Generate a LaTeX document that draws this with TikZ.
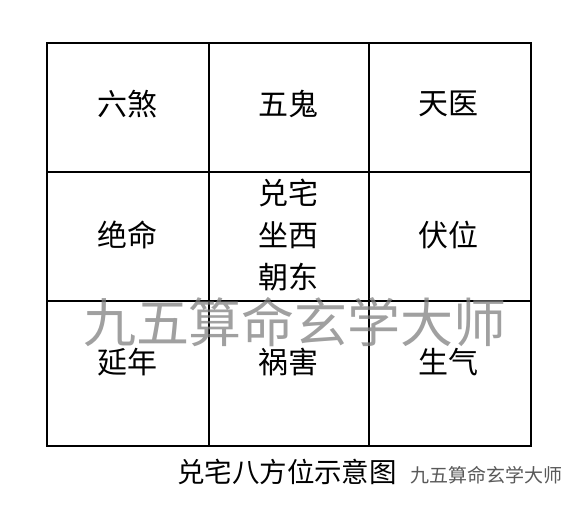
\documentclass[tikz,border=0pt]{standalone}
\usepackage{fontspec}
\newfontfamily\cjk{Noto Sans CJK SC}
\usetikzlibrary{positioning}

\begin{document}
\begin{tikzpicture}[x=1pt,y=-1pt,
    gua/.style={font=\cjk\fontsize{30}{42}\selectfont, align=center, inner sep=0pt}]
    \useasboundingbox (0,0) rectangle (582,506);

    % Grille 3x3
    \draw[line width=1.6pt] (47,43) rectangle (531,446);
    \draw[line width=1.6pt] (209,43) -- (209,446) (369,43) -- (369,446);
    \draw[line width=1.6pt] (47,172) -- (531,172) (47,301) -- (531,301);

    % Filigrane
    \node[font=\cjk\fontsize{53}{53}\selectfont, text=black!50, opacity=0.75, inner sep=0pt] (wm) at (295,322) {九五算命玄学大师};

    % Rangee du haut
    \node[gua] (liusha) at (127,104) {六煞};
    \node[gua] (wugui) at (288,104) {五鬼};
    \node[gua] (tianyi) at (448,104) {天医};

    % Rangee du milieu
    \node[gua] (jueming) at (127,235) {绝命};
    \node[gua] (zhai) at (288,235) {兑宅\\坐西\\朝东};
    \node[gua] (fuwei) at (448,235) {伏位};

    % Rangee du bas
    \node[gua] (yannian) at (127,362) {延年};
    \node[gua] (huohai) at (288,362) {祸害};
    \node[gua] (shengqi) at (448,362) {生气};

    % Legende
    \node[font=\cjk\fontsize{27.5}{27.5}\selectfont, inner sep=0pt] (titre) at (287,472) {兑宅八方位示意图};
    \node[font=\cjk\fontsize{19}{19}\selectfont, text=black!65, inner sep=0pt] (marque) at (486,475) {九五算命玄学大师};
\end{tikzpicture}
\end{document}
